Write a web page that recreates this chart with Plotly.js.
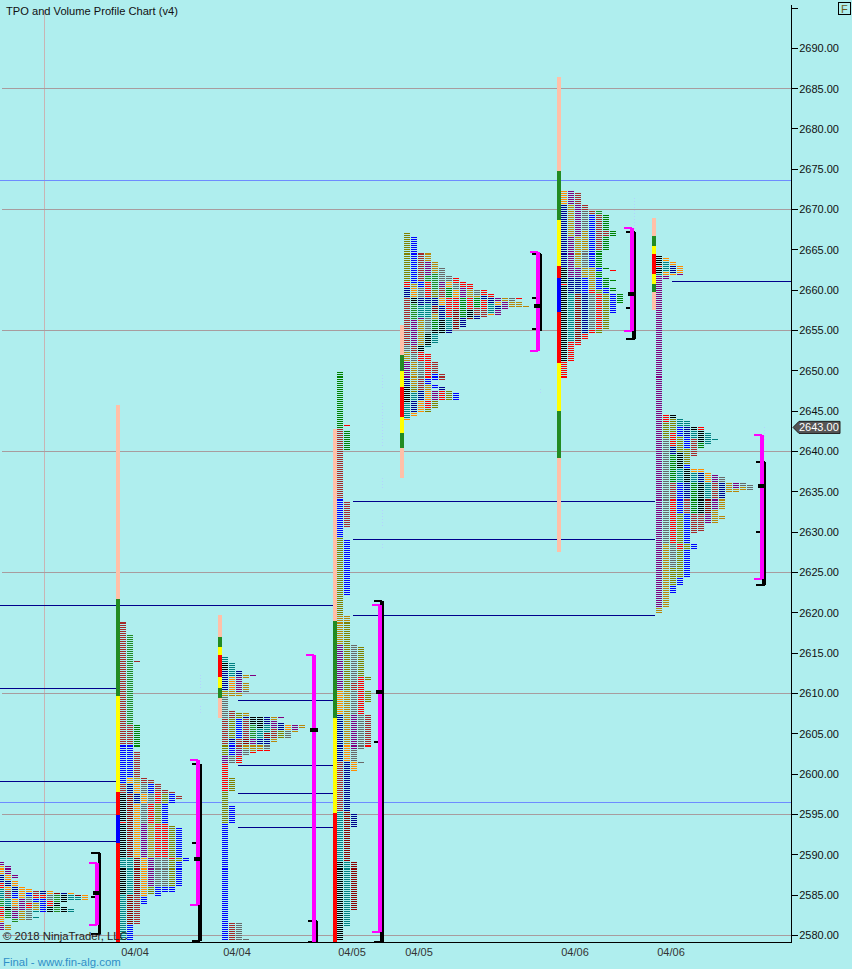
<!DOCTYPE html>
<html>
<head>
<meta charset="utf-8">
<script src="https://cdn.plot.ly/plotly-3.0.1.min.js"></script>
<style>
html,body{margin:0;padding:0;background:#AFEEEE;}
.scatterlayer path.js-line{shape-rendering:crispEdges;}
</style>
</head>
<body>
<div id="chart" style="width:852px;height:969px;"></div>
<script>
// ---------- axis text ----------
const priceTicks = [2580,2585,2590,2595,2600,2605,2610,2615,2620,2625,2630,2635,2640,2645,2650,2655,2660,2665,2670,2675,2680,2685,2690,2695];
const priceLabels = priceTicks.map(v => v === 2695 ? '' : v.toFixed(2));
const dateLabels = ['04/04','04/04','04/05','04/05','04/06','04/06'];
const dateSlots = [135,237,352,419,575,671];

// ---------- reference lines (prices) ----------
const grayLevels = [2685,2670,2655,2640,2625,2610,2595,2580];
const blueLevels = [2673.64,2596.5];
const pocSegments = [
  [2620.92,0,336],[2610.63,0,116],[2599.1,0,116],[2591.66,0,116],
  [2609.14,238,336],[2601.08,238,336],[2597.61,238,336],[2593.39,238,336],
  [2619.68,353,655],[2629.1,353,655],[2633.81,353,655],
  [2661.09,672,791]
];

// ---------- TPO period colour keys ----------
const periodColors = {
  br:'#A52A2A', ma:'#8B0000', nv:'#00008B', bl:'#0000FF', gr:'#008000', fg:'#228B22', te:'#008080',
  k:'#000000', gy:'#696969', ol:'#808000', gd:'#B8860B', or:'#FF8C00', r:'#FF0000', pu:'#800080',
  dp:'#800080', y:'#FFFF00', pe:'#FFC0A8'
};

// Each column: top price, period, next price, period, next price ...  ('_' is an empty stretch)
const profile1 = [
  [2589,'pu',2588.5,'or',2587.5,'nv',2586.5,'r',2585.75,'te',2584.5,'fg',2583.5,'r',2582.25,'or',2581.5,'pu',2580.5],
  [2588.5,'pu',2587.5,'or',2586.75,'nv',2586,'or',2585.5,'br',2584.5,'te',2583.5,'k',2583,'fg',2582,'_',2581.25,'gd',2580.5],
  [2587.5,'pu',2587,'_',2586.75,'or',2586,'nv',2585.25,'bl',2584.5,'or',2583.5,'br',2583,'pu',2582,'fg',2581.5],
  [2586,'or',2584.5,'pu',2583,'gd',2581.75],
  [2585.75,'or',2585.25,'bl',2584.75,'gy',2584,'r',2583.25,'gy',2581.75],
  [2585.5,'br',2585,'r',2584.5,'bl',2584,'gd',2583,'te',2582.75,'_',2582.25,'te',2582],
  [2585.5,'nv',2585,'r',2584.5,'bl',2582.75],
  [2585.5,'or',2585,'gy',2584.25,'r',2583.5,'k',2582.75],
  [2585.25,'ma',2585,'fg',2584,'k',2583.5,'fg',2582.75],
  [2585.25,'nv',2585,'k',2584,'_',2583.5,'k',2582.75],
  [2585.25,'or',2585,'te',2584.25,'_',2583.25,'te',2582.75],
  [2585,'ma',2584.75,'te',2584.25],
  [2585,'or',2584.25]
];
const profile2 = [
  [2618.75,'br',2603.5,'bl',2598.75,'br',2597.5,'k',2594,'r',2593.75,'k',2589.5,'te',2588.25,'k',2585,'te',2579.25],
  [2617.25,'fg',2606,'br',2603.5,'bl',2599.5,'or',2598.75,'nv',2597.5,'ma',2589.5,'te',2585,'ma',2581.25,'bl',2579.25],
  [2614,'br',2613.75,'_',2606,'gr',2603.25,'_',2602.75,'br',2599.5,'gd',2598.75,'or',2597.5,'nv',2596.25,'or',2589.5,'ma',2585,'br',2581.25],
  [2599.5,'br',2598.75,'gy',2597.5,'or',2596.25,'gy',2593.75,'pu',2589.5,'or',2584.75,'bl',2583.75],
  [2599.25,'br',2598.75,'bl',2597.5,'gy',2596.25,'r',2593.75,'gd',2589.5,'pu',2586,'ol',2585],
  [2598.75,'br',2597.75,'r',2596.25,'ol',2593.75,'r',2589.5,'gy',2586,'bl',2584.75],
  [2598,'br',2597.5,'ol',2596.25,'bl',2593.75,'r',2589.5,'gy',2586,'bl',2585.25],
  [2597.75,'br',2597.5,'bl',2596.25,'_',2593.5,'ol',2589.5,'r',2589.25,'ol',2586,'bl',2585.25],
  [2597.25,'br',2596.75,'_',2593.25,'bl',2589.5,'ol',2589,'bl',2586],
  [2589.5,'bl',2589]
];
const profile3 = [
  [2614.5,'te',2613.75,'k',2612.75,'nv',2610.25,'gd',2609.5,'gy',2606.75,'br',2603.5,'ol',2602.25,'pu',2601.25,'r',2597.75,'ol',2593.75,'bl',2579.25],
  [2613.75,'te',2612,'or',2610.25,'gd',2609.5,'_',2607.75,'br',2606.75,'ol',2604.25,'nv',2603.75,'bl',2602.25,'gy',2601.25,'_',2599.5,'ol',2597.75,'_',2596,'bl',2593.75,'_',2581.5,'br',2579.25],
  [2612.75,'nv',2612,'pu',2610,'gd',2609.5,'_',2607.5,'ol',2606.75,'bl',2604.25,'br',2603,'pu',2602.25,'r',2601.25,'_',2581.5,'gy',2579.25],
  [2612.25,'gd',2611.75,'_',2611.25,'gd',2610.25,'gy',2610,'_',2607.5,'gd',2607,'nv',2606.75,'br',2604.25,'ma',2603.5,'gd',2603,'gy',2602.25,'_',2579.5,'gy',2579.25],
  [2612.25,'pu',2612,'_',2607,'k',2606,'fg',2604.25,'pu',2603.5,'gd',2602.75,'r',2602.5],
  [2607,'k',2605.5,'te',2604.25,'nv',2603.5,'gd',2603,'r',2602.75],
  [2607,'nv',2606,'te',2605,'ma',2604.25,'nv',2603.5,'gy',2603,'r',2602.75],
  [2607,'gd',2606.5,'pu',2605.5,'br',2604.25,'gd',2603.75],
  [2607,'pu',2606.75,'_',2606.25,'nv',2605.25,'ol',2604.25],
  [2606,'or',2605.25,'gy',2604.25],
  [2606,'pu',2605.25,'gd',2605],
  [2606,'gd',2605.5]
];
const profile4 = [
  [2649.75,'gr',2642.75,'br',2634,'bl',2629.25,'ol',2619.5,'gd',2616,'pu',2610.25,'or',2607.25,'nv',2601.5,'br',2595.25,'te',2589,'k',2579.25],
  [2643.25,'r',2643,'_',2642.5,'gr',2640,'_',2633.75,'br',2630.5,'_',2629,'bl',2622,'_',2619.5,'gd',2618.75,'ol',2610.25,'gd',2603.5,'or',2601.5,'nv',2595.25,'ma',2589,'te',2581],
  [2616,'gy',2611.25,'br',2610.25,'gy',2607.25,'pu',2603,'gy',2601.5,'or',2600.25,'_',2595,'nv',2593.25,'_',2589,'ma',2583],
  [2615.75,'ol',2612,'r',2607.25,'gy',2603,'_',2601.5,'gy',2601.25],
  [2612,'ol',2611.5,'_',2610.25,'ol',2608.75,'_',2607.25,'br',2603.5,'r',2603.25]
];
const profile5 = [
  [2667,'ol',2661,'r',2660.25,'nv',2659,'br',2653,'gy',2652.25,'gd',2651,'pu',2649,'nv',2648,'k',2646,'te',2644,'or',2643.75],
  [2666.5,'bl',2660.75,'gd',2660.25,'or',2659,'k',2658.25,'fg',2656.25,'pu',2653,'br',2652,'gy',2651,'gd',2648,'ol',2647.25,'te',2646.25,'nv',2644.75,'or',2644.25],
  [2664.5,'br',2661,'bl',2660.25,'gy',2659,'nv',2658,'te',2656.5,'pu',2656.25,'gd',2653,'k',2652.25,'r',2651,'gy',2649,'br',2647.5,'nv',2646.25,'or',2644.75],
  [2664.5,'gd',2663.5,'pu',2661.75,'fg',2661,'r',2659,'nv',2658.25,'te',2656.5,'gy',2654.5,'k',2653,'te',2652.75,'_',2652,'r',2649,'bl',2648.25,'gd',2647.5,'or',2646.25,'r',2645.25,'ol',2644.75],
  [2663.5,'gd',2662,'fg',2660,'ol',2659,'nv',2658,'ma',2657,'gd',2656.25,'gr',2655,'k',2654.5,'te',2653.25,'_',2651,'br',2649.5,'bl',2648.75,'_',2648.25,'bl',2647.75,'_',2647.5,'pu',2646.25,'ol',2645.25],
  [2662.75,'gy',2661,'pu',2660.25,'br',2659,'or',2658,'nv',2656.25,'k',2654.5,'_',2649.5,'br',2648.75,'_',2648,'nv',2647.5,'r',2646.25],
  [2661.75,'gy',2661,'or',2660.25,'gr',2659,'r',2656.5,'te',2655,'nv',2654.5,'_',2647.5,'ol',2646.25],
  [2661.5,'r',2660.75,'gy',2660,'or',2659,'r',2657.5,'ma',2655,'_',2647.25,'bl',2646.25],
  [2661,'r',2660.25,'pu',2659,'gr',2656.5,'nv',2655.25],
  [2660.75,'r',2660,'gd',2659,'r',2657.5,'k',2656.5,'ma',2656.25],
  [2660,'gy',2659.25,'gd',2659,'gr',2657.75,'br',2656.75,'nv',2656.25],
  [2660,'r',2659.25,'nv',2658.75,'r',2657.5,'br',2656.5],
  [2659.5,'r',2659,'nv',2658.25,'te',2657,'or',2656.75],
  [2659,'pu',2658.5,'or',2658,'nv',2657.5,'pu',2656.75],
  [2659,'gd',2658.5,'pu',2657.5],
  [2659,'gy',2658.5,'gd',2657.75],
  [2659,'r',2658.75,'_',2658.5,'gd',2657.75],
  [2658,'gd',2657.75]
];
const profile6 = [
  [2672.25,'or',2670.5,'nv',2662.75,'k',2660.75,'r',2660.5,'k',2651,'r',2649],
  [2672.25,'pu',2670.5,'gd',2666.5,'pu',2661.5,'nv',2659.5,'te',2653.5,'r',2651],
  [2672,'br',2670.5,'pu',2666.5,'gd',2662.75,'pu',2661.5,'nv',2659.5,'ma',2653.5,'r',2653],
  [2670.5,'br',2669.75,'gy',2667.25,'gd',2664.75,'gy',2662.75,'gd',2661.5,'bl',2659.5,'nv',2654.5,'r',2653.75],
  [2669.75,'br',2669.25,'bl',2662.75,'gd',2660,'r',2659.5,'gy',2655,'r',2654.5],
  [2669.75,'fg',2669.25,'br',2664.75,'gr',2662.75,'bl',2662.25,'gr',2661.5,'bl',2660,'ol',2659.5,'r',2655,'ol',2654.5],
  [2669.25,'gr',2667.25,'br',2666.5,'gr',2664.75,'_',2662.75,'gr',2662.5,'_',2661.5,'gr',2660.25,'bl',2659.5,'ol',2655],
  [2667.25,'gr',2666.5,'_',2662.5,'r',2662.25,'_',2661.25,'gr',2661,'_',2660.25,'gr',2659.75,'_',2659.5,'bl',2657],
  [2659.5,'gr',2658.25]
];
const profile7 = [
  [2664.25,'k',2663,'r',2662.75,'k',2662,'te',2661.75,'pu',2649.25,'dp',2634,'pu',2620.5,'gd',2619.75],
  [2664,'or',2663.5,'te',2662.25,'or',2661.75,'pu',2661.25,'_',2644.5,'r',2643.5,'ol',2641.5,'gy',2628.5,'gd',2620.5],
  [2663.5,'or',2663,'nv',2662,'or',2661.75,'_',2644.5,'k',2644,'ol',2642.25,'r',2640.5,'nv',2639.5,'gr',2636,'br',2634,'r',2628.5,'gy',2625.5,'ol',2623.25,'bl',2622.25],
  [2663,'or',2662,'pu',2661.75,'_',2644,'te',2643,'bl',2641.75,'ol',2639.75,'k',2637.75,'te',2636,'bl',2632.25,'ol',2628.5,'r',2627.75,'ol',2624.25,'bl',2623.25],
  [2643.75,'te',2643,'nv',2641.75,'bl',2640.25,'ol',2638.25,'bl',2637.75,'k',2636,'nv',2634,'br',2632.25,'bl',2628.5,'ol',2627.75,'bl',2624.25],
  [2643,'k',2642.5,'te',2641.5,'br',2639.25,'_',2637.75,'or',2637.25,'te',2636,'gr',2632.25,'br',2629.75,'_',2628.5,'bl',2627.75],
  [2643,'r',2642.5,'k',2641,'gr',2640.25,'_',2637.75,'or',2637.25,'nv',2636,'k',2632.25,'br',2630],
  [2642.25,'te',2640.75,'_',2637.25,'or',2636,'te',2634,'ma',2632.25,'pu',2631],
  [2641.5,'te',2641.25,'_',2637,'pu',2636,'br',2634,'pu',2632.75,'gd',2631],
  [2636.75,'gy',2636,'nv',2634,'gd',2632.75,'_',2632,'gd',2631.5],
  [2636,'gd',2634.75],
  [2636,'pu',2635.25,'gd',2634.75],
  [2636,'gy',2635.5,'gd',2635],
  [2635.75,'gy',2635]
];

// Range bars: top price, period, next price ...
const range2 = [2645.75,'pe',2621.75,'fg',2609.75,'y',2597.75,'r',2595,'bl',2591.5,'r',2579.2];
const range3 = [2619.75,'pe',2617,'fg',2615.75,'y',2614.75,'r',2612,'y',2610.75,'fg',2609.5,'pe',2607];
const range4 = [2642.75,'pe',2619,'fg',2607,'y',2595.25,'r',2579.2];
const range5 = [2655.75,'pe',2652,'fg',2650,'y',2648,'r',2644.25,'y',2642.25,'fg',2640.5,'pe',2636.75];
const range6 = [2686.5,'pe',2674.75,'fg',2668.75,'y',2663,'r',2661.5,'bl',2657.25,'r',2651,'y',2645,'fg',2639.25,'pe',2627.5];
const range7 = [2669,'pe',2666.75,'fg',2665.5,'y',2664.5,'r',2662,'y',2660.75,'fg',2659.75,'pe',2657.5];

// Value area [high, low], full range [high, low], point of control, extra marks
const valueAreas = [[2589,2581.25],[2601.75,2583.75],[2614.75,2579.2],[2621,2580.5],[2664.75,2652.5],[2667.75,2655],[2642,2624.25]];
const fullRanges = [[2590.25,2580.25],[2601.25,2579.35],[2581.75,2579.2],[2621.5,2579.2],[2664.5,2655],[2667.25,2654],[2638.75,2623.5]];
const pocPrices = [2585.25,2589.5,2605.5,2610.25,2658,2659.5,2635.75];
const midMarks = [[2584.75],[2591.5],[],[2604],[2659,2655.25],[2657.75],[2630]];
const lastPrice = 2643;

// ---------- layout of the columns along the x axis (kept apart from values) ----------
const colStep = 7, colWidth = 6;
const columnStarts = [-2,120,222,337,404,561,656];
const rangeBarCenters = [118,220,335,402,559,654];
const bracketGeom = [
  {m:97,c:89,b:99.5,bw:3,bc:91,pl:93,pr:99,tl:91,tr:96},
  {m:198,c:190,b:200,bw:4,bc:192,pl:194,pr:200,tl:192,tr:198},
  {m:314,c:306,b:317,bw:2,bc:308,pl:310,pr:318,tl:310,tr:314},
  {m:380,c:372,b:382,bw:4,bc:374,pl:376,pr:384,tl:374,tr:380},
  {m:538,c:530,b:541,bw:2,bc:532,pl:534,pr:542,tl:532,tr:536},
  {m:632,c:624,b:635,bw:2,bc:626,pl:628,pr:636,tl:626,tr:630,foot:634},
  {m:762,c:754,b:765,bw:2,bc:756,pl:758,pr:766,tl:756,tr:760,foot:764}
];

const dottedMarks = [
  [99,2589,2587],[200,2612.25,2610.75],[200,2608.5,2607.5],
  [382,2649.5,2647.75],[382,2646,2640.75],[382,2636.75,2635.5],[382,2632.75,2630.5],[382,2628.5,2628],
  [540,2647.75,2647],[634,2671.5,2667.5],[764,2643,2641.5]
];

// ---------- build traces ----------
const rowsX = {}, rowsY = {};
function addRow(key, x0, p) {
  (rowsX[key] = rowsX[key] || []).push(x0, x0 + colWidth, null);
  (rowsY[key] = rowsY[key] || []).push(p, p, null);
}
function addColumn(col, x0) {
  for (let i = 0; i + 2 < col.length; i += 2) {
    const top = col[i], key = col[i + 1], next = col[i + 2];
    if (key === '_') continue;
    for (let p = top; p > next + 0.01; p -= 0.25) addRow(key, x0, p);
  }
}
[profile1,profile2,profile3,profile4,profile5,profile6,profile7].forEach((prof, n) => {
  prof.forEach((col, k) => addColumn(col, columnStarts[n] + k * colStep));
});

const traces = [];
function seg(xs, ys, color, width, dash) {
  traces.push({type:'scatter', mode:'lines', x:xs, y:ys, hoverinfo:'skip', showlegend:false,
    line:{color:color, width:width, dash:dash||'solid', simplify:false}, connectgaps:false});
}
// background guide lines
seg([44,44],[2579.2,2694.75],'#C8B4B4',1);
grayLevels.forEach(v => seg([2,791],[v,v],'#A89C9E',1));
blueLevels.forEach(v => seg([0,791],[v,v],'#6E8CFF',1));
dottedMarks.forEach(d => seg([d[0],d[0]],[d[1],d[2]],'#B4D2FF',1,'1px,2px'));
pocSegments.forEach(s => seg([s[1],s[2]],[s[0],s[0]],'#00008B',1));

// profile rows
Object.keys(rowsX).forEach(key => seg(rowsX[key], rowsY[key], periodColors[key], 1.017));

// range bars
[range2,range3,range4,range5,range6,range7].forEach((r, n) => {
  for (let i = 0; i + 2 < r.length; i += 2) {
    seg([rangeBarCenters[n],rangeBarCenters[n]],[r[i],r[i+2]],periodColors[r[i+1]],4);
  }
});

// brackets
bracketGeom.forEach((g, n) => {
  const [fh,fl] = fullRanges[n], [vh,vl] = valueAreas[n];
  seg([g.b,g.b],[fh,fl],'#000000',g.bw);
  seg([g.bc,g.b],[fh,fh],'#000000',2);
  if (n !== 4) seg([g.bc,g.b],[fl,fl],'#000000',2);
  if (g.foot) seg([g.foot,g.foot],[vl,fl],'#000000',4);
  midMarks[n].forEach(v => seg([g.tl,g.tr],[v,v],'#000000',2));
  seg([g.m,g.m],[vh,vl],'#FF00FF',4);
  seg([g.c,g.m],[vh,vh],'#FF00FF',2);
  if (n !== 2) seg([g.c,g.m],[vl,vl],'#FF00FF',2);
  seg([g.pl,g.pr],[pocPrices[n],pocPrices[n]],'#000000',4);
});

const plotW = 791, plotTop = 5, plotBottom = 942, pxPerPoint = 8 + 4/61;
const priceTop = 2634 + (500 - plotTop) / pxPerPoint;
const priceBottom = 2634 - (plotBottom - 500) / pxPerPoint;
const font = 'Liberation Sans, Arial, sans-serif';
const layout = {
  width:852, height:969,
  margin:{l:0,r:61,t:plotTop,b:969-plotBottom,pad:0},
  paper_bgcolor:'#AFEEEE', plot_bgcolor:'#AFEEEE',
  showlegend:false, hovermode:false,
  font:{family:font,size:11,color:'#000'},
  title:{text:'TPO and Volume Profile Chart (v4)', x:6/852, y:1-11.5/969, xref:'container', yref:'container',
         xanchor:'left', yanchor:'middle', font:{family:font,size:11.13,color:'#111'}},
  xaxis:{range:[0,plotW], fixedrange:true, showgrid:false, zeroline:false, showline:true, linecolor:'#000', linewidth:1,
         ticks:'', tickmode:'array', tickvals:dateSlots, ticktext:dateLabels,
         tickfont:{family:font,size:11,color:'#333'}},
  yaxis:{range:[priceBottom,priceTop], side:'right', fixedrange:true, showgrid:false, zeroline:false, showline:true,
         linecolor:'#000', linewidth:1, ticks:'outside', ticklen:6, tickwidth:1, tickcolor:'#000',
         ticklabelstandoff:-1,
         tickmode:'array', tickvals:priceTicks, ticktext:priceLabels,
         tickfont:{family:font,size:11,color:'#111'}},
  shapes:[
    {type:'path', xref:'paper', yref:'y', layer:'above', fillcolor:'#555555', line:{color:'#222',width:1},
     path:`M ${793/plotW} ${lastPrice} L ${799/plotW} ${lastPrice+0.75} L ${840/plotW} ${lastPrice+0.75} L ${840/plotW} ${lastPrice-0.75} L ${799/plotW} ${lastPrice-0.75} Z`}
  ],
  annotations:[
    {xref:'paper',yref:'y',x:819.5/plotW,y:lastPrice,text:lastPrice.toFixed(2),showarrow:false,
     font:{family:font,size:11,color:'#FFFFFF'},xanchor:'center',yanchor:'middle'},
    {xref:'paper',yref:'paper',x:844.5/plotW,y:(942-8.3)/937,text:'F',showarrow:false,
     font:{family:font,size:11,color:'#6b5a20'},bordercolor:'#000',borderwidth:1,borderpad:0,
     width:11,height:11,xanchor:'center',yanchor:'middle'},
    {xref:'paper',yref:'paper',x:1/plotW,y:(942-936)/937,text:'© 2018 NinjaTrader, LLC',showarrow:false,
     font:{family:font,size:11.3,color:'#222'},xanchor:'left',yanchor:'middle'},
    {xref:'paper',yref:'paper',x:1/plotW,y:(942-962)/937,text:'Final - www.fin-alg.com',showarrow:false,
     font:{family:font,size:11.4,color:'#2F8FC8'},xanchor:'left',yanchor:'middle'}
  ]
};
Plotly.newPlot('chart', traces, layout, {displayModeBar:false, staticPlot:true});
</script>
</body>
</html>
